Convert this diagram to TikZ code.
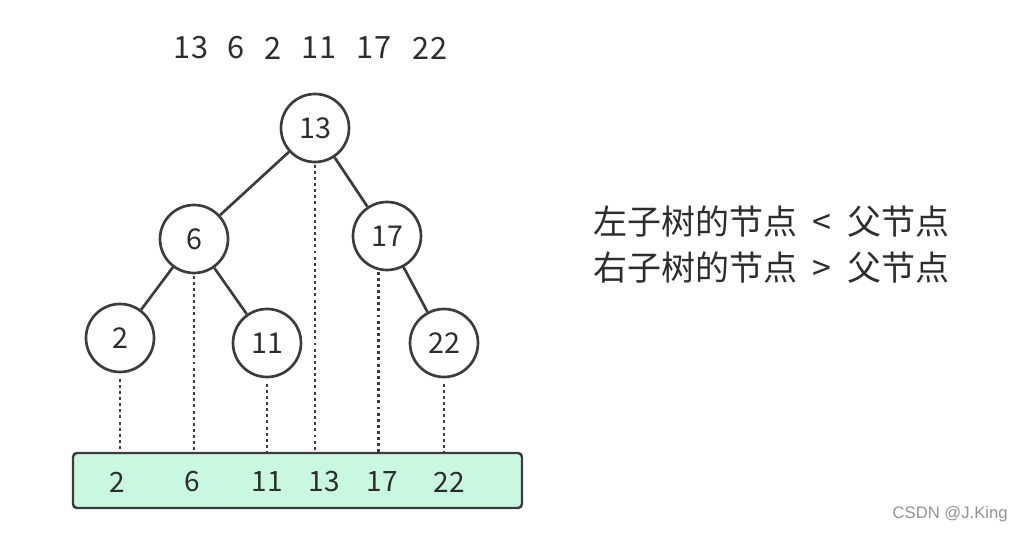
\documentclass[tikz,border=0pt]{standalone}
\usepackage{fontspec}
\setmainfont{Noto Sans CJK SC}
\newfontfamily\wmfont{Liberation Sans}
\definecolor{ln}{RGB}{60,60,60}
\definecolor{txt}{RGB}{45,45,45}
\definecolor{mint}{RGB}{201,248,224}
\begin{document}
\begin{tikzpicture}[x=0.75pt,y=-0.75pt,
  tnode/.style={circle,draw=ln,line width=2pt,fill=white,minimum size=51pt,inner sep=0pt,text=txt,font=\fontsize{21.5}{26}\selectfont},
  edge/.style={draw=ln,line width=2pt},
  dotline/.style={draw=ln,line width=2.2pt,dash pattern=on 2.2pt off 2.4pt},
  seq/.style={text=txt,font=\fontsize{23}{28}\selectfont,inner sep=0pt},
  boxnum/.style={text=txt,font=\fontsize{21}{25}\selectfont,inner sep=0pt},
  rule/.style={text=txt,font=\fontsize{25.5}{31}\selectfont,inner sep=0pt,anchor=west}]
\useasboundingbox[fill=white] (0,0) rectangle (1026,534);
% top sequence
\node[seq] (s1) at (191,48) {13};
\node[seq] (s2) at (236,48) {6};
\node[seq] (s3) at (273,48) {2};
\node[seq] (s4) at (319,48) {11};
\node[seq] (s5) at (374,48) {17};
\node[seq] (s6) at (430,48) {22};
% box
\node[draw=ln,line width=1.8pt,fill=mint,rounded corners=3pt,minimum width=336.75pt,minimum height=41.25pt,inner sep=0pt] (box) at (297.5,480.5) {};
\node[boxnum] (b1) at (117,482) {2};
\node[boxnum] (b2) at (192,482) {6};
\node[boxnum] (b3) at (267,482) {11};
\node[boxnum] (b4) at (324,482) {13};
\node[boxnum] (b5) at (382,482) {17};
\node[boxnum] (b6) at (449,482) {22};
% tree nodes
\node[tnode] (n13) at (315,128) {13};
\node[tnode] (n6) at (194,239) {6};
\node[tnode] (n17) at (387,236) {17};
\node[tnode] (n2) at (120,338) {2};
\node[tnode] (n11) at (267,343) {11};
\node[tnode] (n22) at (444,343) {22};
% edges
\draw[edge] (n13) -- (n6);
\draw[edge] (n13) -- (n17);
\draw[edge] (n6) -- (n2);
\draw[edge] (n6) -- (n11);
\draw[edge] (n17) -- (n22);
% dotted projections
\draw[dotline] ([yshift=-4pt]n2.south) -- (n2.south |- box.north);
\draw[dotline] ([yshift=-1pt]n6.south) -- (n6.south |- box.north);
\draw[dotline] ([yshift=-4pt]n11.south) -- (n11.south |- box.north);
\draw[dotline] ([yshift=-1pt]n13.south) -- (n13.south |- box.north);
\draw[dotline] ([yshift=-1pt]n17.256) -- (n17.256 |- box.north);
\draw[dotline] ([yshift=-4pt]n22.south) -- (n22.south |- box.north);
% rules
\node[rule] (r1) at (593,222) {左子树的节点\hspace{6pt} < \hspace{6pt}父节点};
\node[rule] (r2) at (593,268) {右子树的节点\hspace{6pt} > \hspace{6pt}父节点};
% credit
\node[text=gray!85,font=\wmfont\fontsize{12.5}{15}\selectfont,anchor=east,inner sep=0pt] (cr) at (1008,514) {CSDN @J.King};
\end{tikzpicture}
\end{document}
